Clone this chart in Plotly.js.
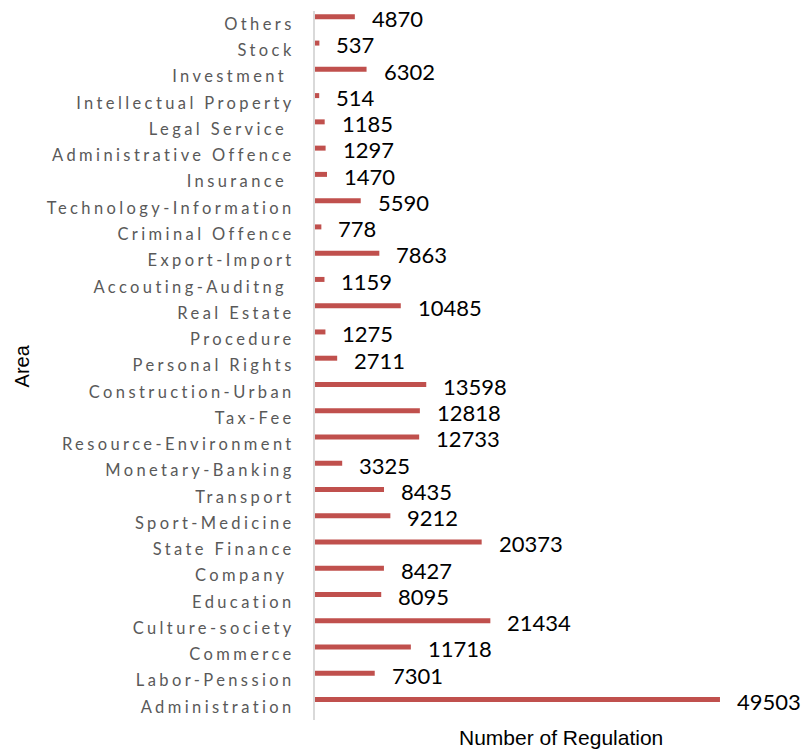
<!DOCTYPE html>
<html>
<head>
<meta charset="utf-8">
<script src="https://cdn.plot.ly/plotly-3.0.1.min.js"></script>
<style>
  html, body { margin: 0; padding: 0; background: #fff; }
  #chart { width: 807px; height: 751px; }
  .ytick text { letter-spacing: 3.4px; }
</style>
</head>
<body>
<div id="chart"></div>
<script>
// Categories listed top to bottom as shown in the chart
const categories = [
  "Others", "Stock", "Investment\u00a0", "Intellectual Property", "Legal Service\u00a0",
  "Administrative Offence", "Insurance\u00a0", "Technology-Information", "Criminal Offence",
  "Export-Import", "Accouting-Auditng\u00a0", "Real Estate", "Procedure", "Personal Rights",
  "Construction-Urban", "Tax-Fee", "Resource-Environment", "Monetary-Banking", "Transport",
  "Sport-Medicine", "State Finance", "Company\u00a0", "Education", "Culture-society",
  "Commerce", "Labor-Penssion", "Administration"
];
const regulations = [
  4870, 537, 6302, 514, 1185,
  1297, 1470, 5590, 778,
  7863, 1159, 10485, 1275, 2711,
  13598, 12818, 12733, 3325, 8435,
  9212, 20373, 8427, 8095, 21434,
  11718, 7301, 49503
];
const xTitle = "Number of Regulation";
const yTitle = "Area";

const barColor = "#C0504D";

const trace = {
  type: "bar",
  orientation: "h",
  x: regulations,
  y: categories,
  marker: { color: barColor },
  width: 0.19,
  offset: -0.373,
  hoverinfo: "x+y"
};

const valueLabels = categories.map((c, i) => ({
  x: regulations[i],
  y: c,
  xref: "x",
  yref: "y",
  text: String(regulations[i]),
  showarrow: false,
  xanchor: "left",
  yanchor: "middle",
  xshift: 15,
  yshift: 5.5,
  font: { family: "Lato, 'Open Sans', sans-serif", size: 22, color: "#000000" }
}));

const titleAnnotations = [
  {
    xref: "paper", yref: "paper",
    x: -0.608, y: 0.5,
    text: yTitle, textangle: -90,
    showarrow: false, xanchor: "center", yanchor: "middle",
    font: { family: "'Liberation Sans', Arial, sans-serif", size: 20, color: "#000000" }
  },
  {
    xref: "paper", yref: "paper",
    x: 0.5104, y: -0.025,
    text: xTitle,
    showarrow: false, xanchor: "center", yanchor: "middle",
    font: { family: "'Liberation Sans', Arial, sans-serif", size: 21, color: "#000000" }
  }
];

const layout = {
  width: 807,
  height: 751,
  margin: { l: 315, r: 10, t: 11, b: 31, pad: 0 },
  paper_bgcolor: "#ffffff",
  plot_bgcolor: "#ffffff",
  showlegend: false,
  xaxis: {
    range: [0, 58917],
    showticklabels: false,
    showgrid: false,
    zeroline: false,
    showline: false,
    ticks: "",
    fixedrange: true
  },
  yaxis: {
    type: "category",
    range: [categories.length - 0.5, -0.5],
    autorange: false,
    showgrid: false,
    zeroline: false,
    showline: true,
    linecolor: "#d9d9d9",
    linewidth: 2,
    ticks: "outside",
    ticklen: 15,
    tickcolor: "rgba(0,0,0,0)",
    tickfont: { family: "Lato, 'Open Sans', sans-serif", size: 16.5, color: "#595959" },
    automargin: false,
    fixedrange: true
  },
  annotations: valueLabels.concat(titleAnnotations)
};

Plotly.newPlot("chart", [trace], layout, { displayModeBar: false, staticPlot: true });
</script>
</body>
</html>
